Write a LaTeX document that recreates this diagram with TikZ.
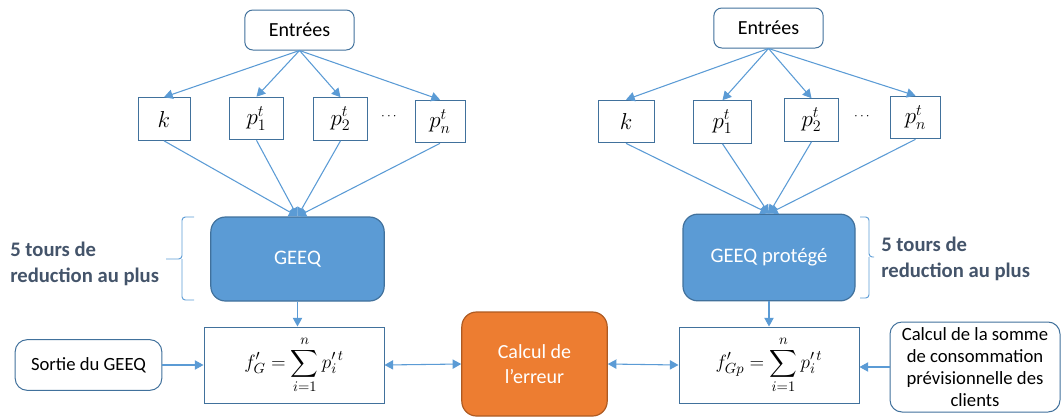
\documentclass[tikz,border=0pt]{standalone}
\usepackage{fontspec}
\setmainfont{Carlito}
\usepackage{amsmath}
\usetikzlibrary{arrows.meta,positioning}

\definecolor{bleu}{HTML}{5B9BD5}
\definecolor{bleufonce}{HTML}{41719C}
\definecolor{orange}{HTML}{ED7D31}
\definecolor{orangefonce}{HTML}{AE5A21}
\definecolor{ardoise}{HTML}{44546A}

\tikzset{
	fl/.style={draw=bleu, line width=0.8pt, -{Triangle[length=6.5pt,width=7pt]}},
	fleche2/.style={draw=bleu, line width=0.8pt, {Triangle[length=6.5pt,width=7pt]}-{Triangle[length=6.5pt,width=7pt]}},
	entree/.style={draw=bleufonce, line width=0.75pt, rounded corners=6pt, fill=white, minimum width=82pt, minimum height=30pt, inner sep=0pt, font=\fontsize{15}{17}\selectfont},
	var/.style={draw=bleufonce, line width=0.75pt, fill=white, minimum height=32pt, inner sep=0pt, font=\fontsize{18.5}{20}\selectfont},
	geeq/.style={draw=bleufonce, line width=0.9pt, fill=bleu, rounded corners=11pt, text=white, inner sep=0pt, font=\fontsize{15.5}{18}\selectfont},
	somme/.style={draw=bleufonce, line width=0.75pt, fill=white, minimum width=135pt, minimum height=57pt, inner sep=0pt, font=\fontsize{15.5}{17}\selectfont},
	boite/.style={draw=bleufonce, line width=0.75pt, rounded corners=9pt, fill=white, inner sep=0pt, align=center, font=\fontsize{14}{16.5}\selectfont},
	erreur/.style={draw=orangefonce, line width=0.9pt, fill=orange, rounded corners=11pt, text=white, inner sep=0pt, align=center, minimum width=109pt, minimum height=78pt, font=\fontsize{15}{19}\selectfont},
	tours/.style={text=ardoise, align=left, inner sep=0pt, font=\bfseries\fontsize{15.5}{20}\selectfont},
	accolade/.style={draw=bleu, line width=0.7pt, rounded corners=2.5pt}
}

\begin{document}
\begin{tikzpicture}[x=0.75pt, y=-0.75pt]
	\useasboundingbox (0,0) rectangle (1063,418);

	% GEEQ
	\node[entree] (e1) at (299.5,30) {Entrées};
	\node[var, minimum width=39pt] (k1) at (164,119) {$k$};
	\node[var, minimum width=41pt] (p11) at (256.5,118.5) {$p_1^t$};
	\node[var, minimum width=40pt] (p12) at (340.5,119) {$p_2^t$};
	\node (d1) at (390,117) {$\cdots$};
	\node[var, minimum width=37.5pt] (p1n) at (440,121.5) {$p_n^t$};
	\node[geeq, minimum width=130pt, minimum height=63pt] (g1) at (297.5,259) {GEEQ};
	\node[somme] (f1) at (294,365) {$\displaystyle f'_G=\sum_{i=1}^{n}p'^{\,t}_i$};
	\node[boite, minimum width=110pt, minimum height=38pt] (s1) at (88.5,365) {Sortie du GEEQ};
	\node[tours, anchor=west] (t1) at (10,264) {5 tours de\\reduction au plus};

	\draw[fl] (e1.south) -- (k1.north);
	\draw[fl] (e1.south) -- (p11.north);
	\draw[fl] (e1.south) -- (p12.north);
	\draw[fl] (e1.south) -- (p1n.north);
	\draw[fl] (k1.south) -- (g1.north);
	\draw[fl] (p11.south) -- (g1.north);
	\draw[fl] (p12.south) -- (g1.north);
	\draw[fl] (p1n.south) -- (g1.north);
	\draw[fl] (g1.south) -- (g1.south |- f1.north);
	\draw[fl] (s1.east) -- (f1.west);
	\draw[accolade] (194,217) -| (182,259) -- (166,259);
	\draw[accolade] (194,300) -| (182,259);

	% erreur
	\node[erreur] (err) at (534.5,364) {Calcul de\\l'erreur};
	\draw[fleche2] (f1.east) -- (err.west);

	% GEEQ protege
	\node[entree] (e2) at (768.5,28) {Entrées};
	\node[var, minimum width=42pt] (k2) at (626,121.5) {$k$};
	\node[var, minimum width=43pt] (p21) at (722.5,122) {$p_1^t$};
	\node[var, minimum width=40pt] (p22) at (811.5,120) {$p_2^t$};
	\node (d2) at (863,117) {$\cdots$};
	\node[var, minimum width=37pt] (p2n) at (915.5,117.5) {$p_n^t$};
	\node[geeq, minimum width=129pt, minimum height=65pt] (g2) at (769,257.5) {GEEQ protégé};
	\node[somme] (f2) at (769,365) {$\displaystyle f'_{Gp}=\sum_{i=1}^{n}p'^{\,t}_i$};
	\node[boite, minimum width=127.5pt, minimum height=67.5pt] (s2) at (975,367) {Calcul de la somme\\de consommation\\prévisionnelle des\\clients};
	\node[tours, anchor=west] (t2) at (881,259) {5 tours de\\reduction au plus};

	\draw[fl] (e2.south) -- (k2.north);
	\draw[fl] (e2.south) -- (p21.north);
	\draw[fl] (e2.south) -- (p22.north);
	\draw[fl] (e2.south) -- (p2n.north);
	\draw[fl] (k2.south) -- (g2.north);
	\draw[fl] (p21.south) -- (g2.north);
	\draw[fl] (p22.south) -- (g2.north);
	\draw[fl] (p2n.south) -- (g2.north);
	\draw[fl] (g2.south) -- (f2.north);
	\draw[fl] (s2.west) -- (s2.west -| f2.east);
	\draw[fleche2] (err.east) -- (f2.west);
	\draw[accolade] (860,217) -| (869,257) -- (874,257);
	\draw[accolade] (860,298) -| (869,257);
\end{tikzpicture}
\end{document}
